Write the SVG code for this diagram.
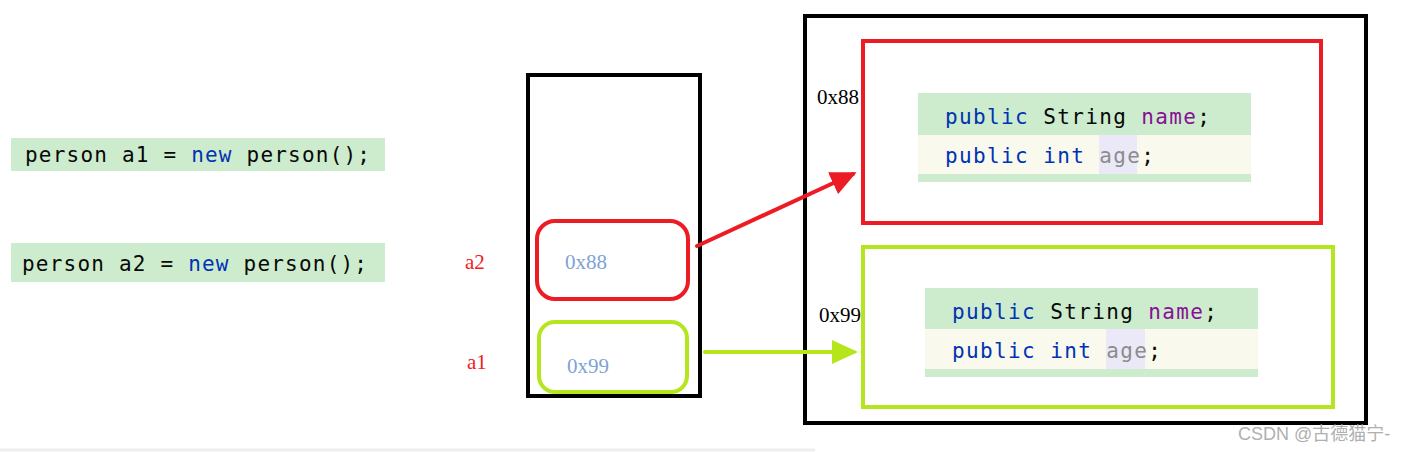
<svg xmlns="http://www.w3.org/2000/svg" width="1405" height="452" viewBox="0 0 1405 452">
<style>
.code{font-family:"DejaVu Sans Mono","Liberation Mono",monospace;font-size:21px;fill:#080808}
.kw{fill:#0033b3}
.fld{fill:#871094}
.unused{fill:#8c8c8c}
.addr{font-family:"Liberation Serif",serif;font-size:21px;fill:#7ea3d6}
.lbl{font-family:"Liberation Serif",serif;font-size:21px}
.green-bg{fill:#cdeccd}
.cream-bg{fill:#faf9ee}
</style>
<defs>
<marker id="ahRed" markerWidth="6.5" markerHeight="6" refX="5.5" refY="3" orient="auto" markerUnits="strokeWidth"><path d="M0,0 L6.5,3 L0,6 z" fill="#ed1c24"/></marker>
<marker id="ahGreen" markerWidth="6.5" markerHeight="6" refX="5.5" refY="3" orient="auto" markerUnits="strokeWidth"><path d="M0,0 L6.5,3 L0,6 z" fill="#b5e61d"/></marker>
</defs>
<rect width="1405" height="452" fill="#ffffff"/>
<line x1="0" y1="450" x2="815" y2="450" stroke="#eeeeee" stroke-width="3"/>

<g id="code-a1">
<rect class="green-bg" x="11" y="138" width="374" height="33"/>
<text class="code" x="25" y="162" textLength="345" lengthAdjust="spacing">person a1 = <tspan class="kw">new</tspan> person();</text>
</g>
<g id="code-a2">
<rect class="green-bg" x="11" y="243" width="374" height="39"/>
<text class="code" x="22" y="271" textLength="345" lengthAdjust="spacing">person a2 = <tspan class="kw">new</tspan> person();</text>
</g>

<g id="stack">
<rect x="528" y="75" width="172" height="321" fill="none" stroke="#000" stroke-width="4"/>
</g>
<g id="var-a2">
<rect x="537" y="221" width="151" height="78" rx="18" fill="none" stroke="#ed1c24" stroke-width="4"/>
<text class="addr" x="565" y="269">0x88</text>
<text class="lbl" x="465" y="269" fill="#ed1c24">a2</text>
</g>
<g id="var-a1">
<rect x="539" y="322" width="148" height="70" rx="16" fill="none" stroke="#b5e61d" stroke-width="4"/>
<text class="addr" x="567" y="373">0x99</text>
<text class="lbl" x="467" y="369" fill="#ed1c24">a1</text>
</g>

<g id="heap">
<rect x="805" y="16" width="561" height="407" fill="none" stroke="#000" stroke-width="4"/>
</g>
<g id="obj-0x88">
<rect x="863" y="41" width="458" height="182" fill="none" stroke="#ed1c24" stroke-width="4"/>
<text class="lbl" x="817" y="104" fill="#000">0x88</text>
<rect class="green-bg" x="918" y="93" width="333" height="89"/>
<rect class="cream-bg" x="918" y="135" width="333" height="39"/>
<rect x="1099" y="135" width="38" height="39" fill="#ebe9f8"/>
<text class="code" x="945" y="124" textLength="265" lengthAdjust="spacing"><tspan class="kw">public</tspan> String <tspan class="fld">name</tspan>;</text>
<text class="code" x="945" y="163" textLength="209" lengthAdjust="spacing"><tspan class="kw">public</tspan> <tspan class="kw">int</tspan> <tspan class="unused">age</tspan>;</text>
</g>
<g id="obj-0x99">
<rect x="863" y="247" width="470" height="160" fill="none" stroke="#b5e61d" stroke-width="4"/>
<text class="lbl" x="819" y="322" fill="#000">0x99</text>
<rect class="green-bg" x="925" y="288" width="333" height="89"/>
<rect class="cream-bg" x="925" y="329" width="333" height="40"/>
<rect x="1106" y="329" width="39" height="40" fill="#ebe9f8"/>
<text class="code" x="952" y="319" textLength="265" lengthAdjust="spacing"><tspan class="kw">public</tspan> String <tspan class="fld">name</tspan>;</text>
<text class="code" x="952" y="358" textLength="209" lengthAdjust="spacing"><tspan class="kw">public</tspan> <tspan class="kw">int</tspan> <tspan class="unused">age</tspan>;</text>
</g>

<g id="connectors">
<line x1="697" y1="246" x2="853" y2="174" stroke="#ed1c24" stroke-width="4" stroke-linecap="round" marker-end="url(#ahRed)"/>
<line x1="705" y1="352" x2="854" y2="352" stroke="#b5e61d" stroke-width="4" stroke-linecap="round" marker-end="url(#ahGreen)"/>
</g>

<text x="1238" y="440" font-family="'Liberation Sans','Noto Sans CJK SC',sans-serif" font-size="18" fill="#b0b0b0">CSDN @古德猫宁-</text>
</svg>
